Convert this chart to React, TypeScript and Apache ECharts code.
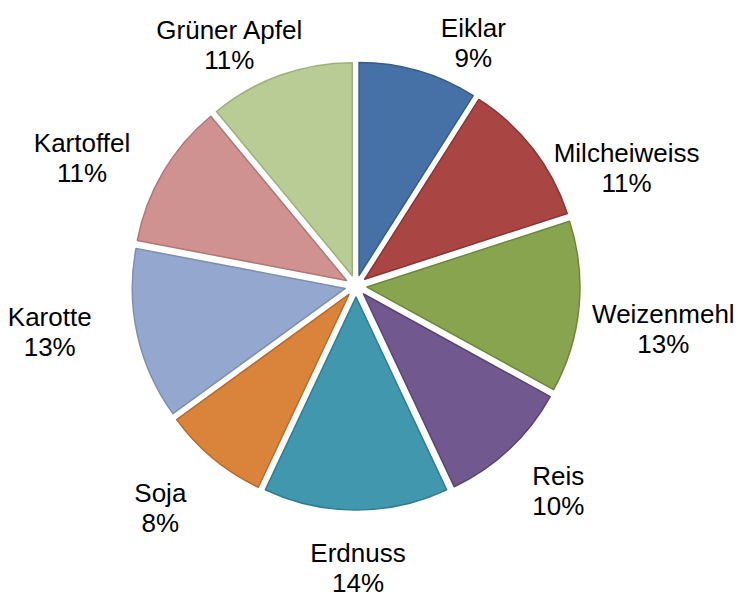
import React, { useEffect, useRef } from "react";
import * as echarts from "echarts";

const categories = ["Eiklar", "Milcheiweiss", "Weizenmehl", "Reis", "Erdnuss", "Soja", "Karotte", "Kartoffel", "Grüner Apfel"];
const shares = [9, 11, 13, 10, 14, 8, 13, 11, 11];

const fillColors = ["#4571A6", "#A94542", "#88A44E", "#71588F", "#4097AE", "#DA833B", "#94A8CF", "#CF9291", "#B9CC96"];
const borderColors = ["#365D8A", "#8A3533", "#6C873A", "#584473", "#2F7C90", "#B8692B", "#7D90B2", "#B07776", "#9DB07A"];

// layout constants
const CX = 356;
const CY = 286;
const RADIUS = 213;
const EXPLODE = 11;
const LABEL_RING = 250;
const labelNudge = [
  [37, 33], [13, 82], [-15, 13], [4, -6], [2, 2], [-11, -1], [-16, -19], [-10, 28], [-24, 44],
];

export default function App() {
  const ref = useRef<HTMLDivElement>(null);
  useEffect(() => {
    if (!ref.current) return;
    const chart = echarts.init(ref.current, undefined, { renderer: "svg" });
    const total = shares.reduce((a, b) => a + b, 0);
    const mids: number[] = [];
    let acc = 0;
    shares.forEach((v) => {
      mids.push(((acc + v / 2) / total) * Math.PI * 2);
      acc += v;
    });
    chart.setOption({
      animation: false,
      series: [
        {
          type: "pie",
          center: [CX, CY],
          radius: RADIUS,
          startAngle: 90,
          clockwise: true,
          selectedMode: "multiple",
          selectedOffset: EXPLODE,
          emphasis: { disabled: true },
          label: { show: false },
          labelLine: { show: false },
          data: categories.map((name, i) => ({
            name,
            value: shares[i],
            selected: true,
            itemStyle: { color: fillColors[i], borderColor: borderColors[i], borderWidth: 1.5 },
          })),
        },
        {
          type: "pie",
          center: [CX, CY],
          radius: RADIUS,
          startAngle: 90,
          clockwise: true,
          silent: true,
          z: 1,
          selectedMode: false,
          avoidLabelOverlap: false,
          emphasis: { disabled: true },
          itemStyle: { color: "rgba(0,0,0,0)", borderWidth: 0 },
          label: {
            show: true,
            position: "outside",
            formatter: (p: any) => `${p.name}\n${Math.round(p.percent)}%`,
            fontFamily: "Liberation Sans, Arial, sans-serif",
            fontSize: 26,
            lineHeight: 30,
            color: "#000",
            align: "center",
          },
          labelLine: { show: false },
          labelLayout: (params: any) => {
            const i = params.dataIndex;
            const a = mids[i];
            const ux = Math.sin(a);
            const uy = -Math.cos(a);
            const hw = params.labelRect.width / 2;
            const hh = params.labelRect.height / 2;
            const d = LABEL_RING + hw * Math.abs(ux) + hh * Math.abs(uy);
            return {
              x: CX + d * ux + labelNudge[i][0],
              y: CY + d * uy + labelNudge[i][1],
              align: "center",
              verticalAlign: "middle",
            };
          },
          data: categories.map((name, i) => ({ name, value: shares[i] })),
        },
      ],
    });
    return () => chart.dispose();
  }, []);
  return <div ref={ref} style={{ position: "absolute", left: 0, top: 0, width: 744, height: 599 }} />;
}
